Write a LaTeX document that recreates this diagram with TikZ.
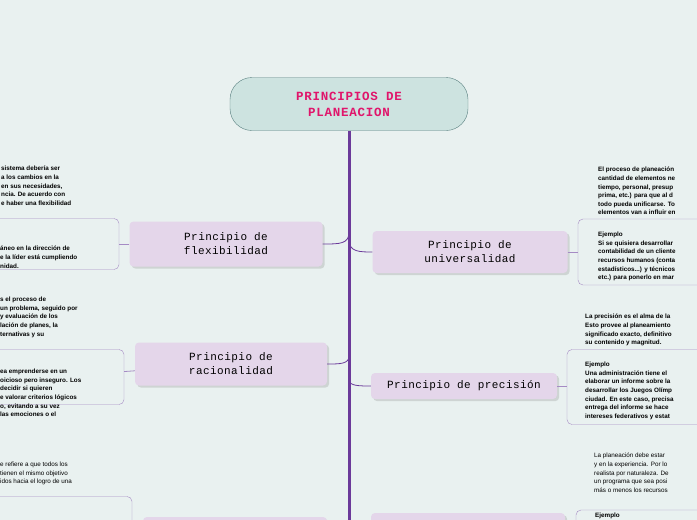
\documentclass[tikz,border=0pt]{standalone}
\usepackage{fontspec}
\setsansfont{Liberation Sans}
\setmonofont{Liberation Mono}
\newfontfamily\titlefont[LetterSpace=6]{Liberation Mono}
\newfontfamily\branchfont[LetterSpace=4]{Liberation Mono}
\usetikzlibrary{shadows}
\definecolor{bgcol}{HTML}{E9F1F0}
\definecolor{trunkcol}{HTML}{6B3A9A}
\definecolor{branchcol}{HTML}{E4D6EA}
\definecolor{boxcol}{HTML}{A58BC4}
\definecolor{titlecol}{HTML}{E0156B}
\definecolor{maincol}{HTML}{CDE3E0}
\begin{document}
\begin{tikzpicture}[x=1pt, y=-1pt]
\tikzstyle{mainidea}=[rectangle,
                      draw=gray!70!teal,
                      fill=maincol,
                      rounded corners=22pt,
                      minimum width=238pt, minimum height=53pt,
                      align=center, text=titlecol,
                      font=\titlefont\bfseries\fontsize{12.5}{16}\selectfont]
\tikzstyle{branch}=[rectangle,
                    fill=branchcol,
                    rounded corners=4pt,
                    drop shadow={opacity=0.25},
                    align=center,
                    font=\branchfont\fontsize{11}{14}\selectfont]
\tikzstyle{detailbox}=[rectangle,
                       draw=boxcol,
                       rounded corners=5pt]
\tikzstyle{notes}=[anchor=north west, align=left, inner sep=0pt,
                   font=\sffamily\bfseries\fontsize{6.3}{8.6}\selectfont]
\tikzstyle{link}=[draw=boxcol, thick]
\fill[bgcol] (0,0) rectangle (697,520);
\clip (0,0) rectangle (697,520);

\node[mainidea] (main) at (349,104) {PRINCIPIOS DE\\PLANEACION};
\coordinate (trunkend) at (349,530);
\coordinate (tflex) at (349,232);
\coordinate (tracio) at (349,356);
\coordinate (tuniv) at (349,240);
\coordinate (tprec) at (349,380);

% left side
\node[branch, minimum width=193pt, minimum height=45pt] (flex) at (226,244)
  {Principio de\\flexibilidad};
\node[branch, minimum width=192pt, minimum height=43pt] (racio) at (231,364)
  {Principio de\\racionalidad};
\node[branch, minimum width=184pt, minimum height=30pt] (unidad) at (235,532) {};

\node[detailbox, minimum width=150pt, minimum height=51pt] (flexex) at (44,244) {};
\node[detailbox, minimum width=154pt, minimum height=55pt] (racioex) at (47,377) {};
\node[detailbox, minimum width=162pt, minimum height=45pt] (unidadex) at (51,519) {};

\node[notes] (flextxt) at (1,166) {sistema debería ser\\a los cambios en la\\en sus necesidades,\\ncia. De acuerdo con\\e haber una flexibilidad};
\node[notes] (flexextxt) at (0,246) {áneo en la dirección de\\e la líder está cumpliendo\\nidad.};
\node[notes] (raciotxt) at (0,297) {s el proceso de\\un problema, seguido por\\y evaluación de los\\lación de planes, la\\ternativas y su};
\node[notes] (racioextxt) at (0,369) {ea emprenderse en un\\oicioso pero inseguro. Los\\decidir si quieren\\e valorar criterios lógicos\\o, evitando a su vez\\las emociones o el};
\node[notes, font=\sffamily\fontsize{6.3}{8.6}\selectfont] (unidadtxt) at (0,462)
  {e refiere a que todos los\\tienen el mismo objetivo\\idos hacia el logro de una};

% right side
\node[branch, minimum width=195pt, minimum height=42pt] (univ) at (470,252)
  {Principio de\\universalidad};
\node[branch, minimum width=186pt, minimum height=26pt] (prec) at (464,386)
  {Principio de precisión};
\node[branch, minimum width=194pt, minimum height=30pt] (realismo) at (468,528) {};

\node[detailbox, minimum width=150pt, minimum height=66pt] (univex) at (653,252) {};
\node[detailbox, minimum width=160pt, minimum height=75pt] (precex) at (647,387) {};
\node[detailbox, minimum width=150pt, minimum height=40pt] (realex) at (651,530) {};

\node[notes] (univtxt) at (598,167) {El proceso de planeación\\cantidad de elementos ne\\tiempo, personal, presup\\prima, etc.) para que al d\\todo pueda unificarse. To\\elementos van a influir en};
\node[notes] (univextxt) at (598,232) {Ejemplo\\Si se quisiera desarrollar\\contabilidad de un cliente\\recursos humanos (conta\\estadísticos...) y técnicos\\etc.) para ponerlo en mar};
\node[notes] (prectxt) at (585,314) {La precisión es el alma de la\\Esto provee al planeamiento\\significado exacto, definitivo\\su contenido y magnitud.};
\node[notes] (precextxt) at (585,362) {Ejemplo\\Una administración tiene el\\elaborar un informe sobre la\\desarrollar los Juegos Olímp\\ciudad. En este caso, precisa\\entrega del informe se hace\\intereses federativos y estat};
\node[notes, font=\sffamily\fontsize{6.3}{8.6}\selectfont] (realtxt) at (594,453)
  {La planeación debe estar\\y en la experiencia. Por lo\\realista por naturaleza. De\\un programa que sea posi\\más o menos los recursos};
\node[notes] (realextxt) at (595,513) {Ejemplo};

% connectors
\draw[trunkcol, line width=3pt] (main.south) -- (trunkend);
\draw[trunkcol, thick] (tflex) .. controls (349,244) and (340,244) .. (flex.east);
\draw[trunkcol, thick] (tracio) .. controls (349,364) and (340,364) .. (racio.east);
\draw[trunkcol, thick] (tuniv) .. controls (349,252) and (360,252) .. (univ.west);
\draw[trunkcol, thick] (tprec) .. controls (349,386) and (360,386) .. (prec.west);
\path[link]
(flex) edge (flexex)
(racio) edge (racioex)
(univ) edge (univex)
(prec) edge (precex);
\end{tikzpicture}
\end{document}
